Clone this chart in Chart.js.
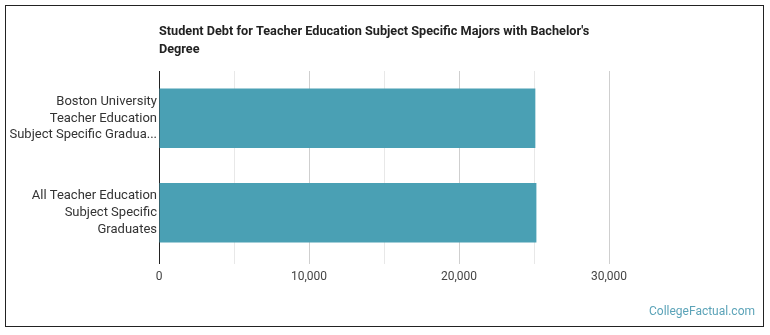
<!DOCTYPE html>
<html>
<head>
<meta charset="utf-8">
<script src="https://cdn.jsdelivr.net/npm/chart.js@4.4.0/dist/chart.umd.min.js"></script>
<style>
  body { margin: 0; background: #fff; }
  #frame { position: absolute; left: 5px; top: 5px; width: 757px; height: 320px; border: 1px solid #222; }
  #wrap { position: absolute; left: 0; top: 0; width: 770px; height: 335px; }
  #credit { position: absolute; right: 15px; top: 304px; font: 12px Roboto, sans-serif; color: #5ba3b8; }
</style>
</head>
<body>
<div id="frame"></div>
<div id="wrap"><canvas id="chart" width="770" height="335"></canvas></div>
<div id="credit">CollegeFactual.com</div>
<script>
const titleLines = ['Student Debt for Teacher Education Subject Specific Majors with Bachelor\'s', 'Degree'];
const categories = [
    ['Boston University', 'Teacher Education', 'Subject Specific Gradua...'],
    ['All Teacher Education', 'Subject Specific', 'Graduates']
];
const debtValues = [25090, 25160];
const xTicks = [0, 10000, 20000, 30000];

// title drawn from the left of the plot area
const titlePlugin = {
    id: 'leftTitle',
    afterDraw(chart) {
        const ctx = chart.ctx;
        ctx.save();
        ctx.font = 'bold 12.7px Roboto, sans-serif';
        ctx.fillStyle = '#222';
        ctx.textBaseline = 'middle';
        titleLines.forEach((line, i) => ctx.fillText(line, chart.chartArea.left, 32 + i * 18));
        ctx.restore();
    }
};

const ctx = document.getElementById('chart').getContext('2d');
new Chart(ctx, {
    type: 'bar',
    data: {
        labels: categories,
        datasets: [{
            data: debtValues,
            backgroundColor: '#4aa0b4',
            categoryPercentage: 1,
            barPercentage: 0.63
        }]
    },
    options: {
        indexAxis: 'y',
        responsive: false,
        animation: false,
        layout: { padding: { left: 0, right: 161, top: 71, bottom: 0 } },
        plugins: { legend: { display: false }, tooltip: { enabled: false } },
        scales: {
            x: {
                min: 0,
                max: 30000,
                afterFit(scale) { scale.height = 75; },
                border: { display: false },
                grid: {
                    color: c => c.tick && c.tick.value === 0 ? '#222' : (c.tick && c.tick.value % 10000 === 0 ? '#cfcfcf' : '#e8e8e8'),
                    tickLength: 4
                },
                ticks: {
                    stepSize: 5000,
                    color: '#444',
                    font: { family: 'Roboto', size: 12 },
                    padding: 6,
                    callback: v => xTicks.includes(v) ? v.toLocaleString('en-US') : ''
                }
            },
            y: {
                afterFit(scale) { scale.width = 159; },
                border: { display: false },
                grid: { display: false, drawTicks: false, tickLength: 0 },
                ticks: {
                    color: '#333',
                    font: { family: 'Roboto', size: 13, lineHeight: 1.3 },
                    padding: 2
                }
            }
        }
    },
    plugins: [titlePlugin]
});
</script>
</body>
</html>
